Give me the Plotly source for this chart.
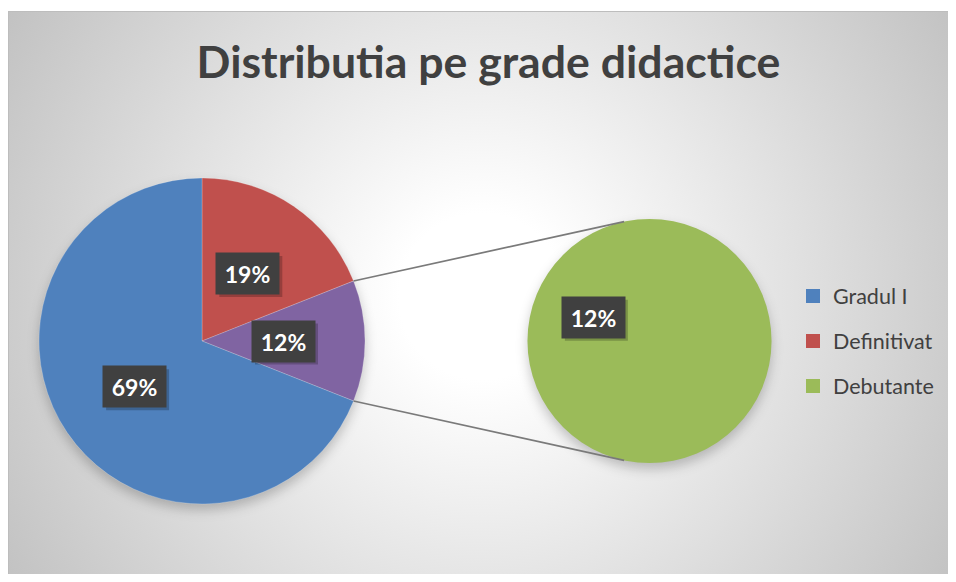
import math
import base64
import plotly.graph_objects as go

# ---------------- data ----------------
categories = ["Gradul I", "Definitivat", "Debutante"]
values = [69, 19, 12]
colors = ["#4F81BD", "#C0504D", "#9BBB59"]
other_color = "#8064A2"
title_text = "Distributia pe grade didactice"

# primary pie (clockwise from 12 o'clock): Definitivat, Other(=Debutante), Gradul I
primary_labels = ["Definitivat", "Alte", "Gradul I"]
primary_values = [values[1], values[2], values[0]]
primary_colors = [colors[1], other_color, colors[0]]
secondary_labels = ["Debutante"]
secondary_values = [values[2]]
secondary_colors = [colors[2]]

# ---------------- geometry / style (page pixels) ----------------
OFF = 8                    # page body margin
W, H = 956 - OFF, 582 - 2 * OFF
P1 = (202, 341, 163)       # cx, cy, r
P2 = (649.5, 341, 122)
LABEL_R = 0.5
P2_LABEL_ANGLE = 293
CONN2_ANGLE = 12
BOX_W, BOX_H = 63, 41
FONT = "Lato, 'Open Sans', sans-serif"
AREA = (8, 11)             # chart area top-left (page px)


def px2paper_x(x):
    return (x - OFF) / W


def px2paper_y(y):
    return 1 - (y - OFF) / H


def pt(c, ang, frac=1.0):
    cx, cy, r = c
    a = math.radians(ang)
    return cx + frac * r * math.sin(a), cy - frac * r * math.cos(a)


def dom(c):
    cx, cy, r = c
    return dict(x=[px2paper_x(cx - r), px2paper_x(cx + r)],
                y=[px2paper_y(cy + r), px2paper_y(cy - r)])


# ---------------- background (radial gradient + soft pie shadows) ----------------
bw, bh = 956 - AREA[0] + 4, 582 - AREA[1] + 4
gx, gy = (956 - AREA[0]) / 2, (582 - AREA[1]) / 2
gr = math.hypot(gx, gy)
shadows = ""
for c in (P1, P2):
    shadows += (f'<circle cx="{c[0]-AREA[0]}" cy="{c[1]-AREA[1]+6}" r="{c[2]}" '
                f'fill="#000" fill-opacity="0.22" filter="url(#b)"/>')
svg = f'''<svg xmlns="http://www.w3.org/2000/svg" width="{bw}" height="{bh}" viewBox="0 0 {bw} {bh}">
<defs><radialGradient id="g" gradientUnits="userSpaceOnUse" cx="{gx}" cy="{gy}" r="{gr}">
<stop offset="0" stop-color="#ffffff"/><stop offset="0.15" stop-color="#ffffff"/><stop offset="1" stop-color="#c2c2c2"/></radialGradient>
<filter id="b" x="-50%" y="-50%" width="200%" height="200%"><feGaussianBlur stdDeviation="6"/></filter></defs>
<rect x="0.5" y="0.5" width="{bw}" height="{bh}" fill="url(#g)" stroke="#bdbdbd" stroke-width="1"/>
{shadows}
</svg>'''
bg_src = "data:image/svg+xml;base64," + base64.b64encode(svg.encode()).decode()

fig = go.Figure()

fig.add_trace(go.Pie(
    values=primary_values, labels=primary_labels, sort=False, direction="clockwise",
    rotation=0, marker=dict(colors=primary_colors, line=dict(color="rgba(255,255,255,0.35)", width=0.6)),
    textinfo="none", hoverinfo="label+percent", showlegend=False, domain=dom(P1)))
fig.add_trace(go.Pie(
    values=secondary_values, labels=secondary_labels, sort=False, direction="clockwise",
    rotation=0, marker=dict(colors=secondary_colors), textinfo="none",
    hoverinfo="label", showlegend=False, domain=dom(P2)))

# legend entries
for cat, col in zip(categories, colors):
    fig.add_trace(go.Scatter(x=[None], y=[None], mode="markers", name=cat, legendgroup=cat,
                             marker=dict(symbol="square", size=14, color=col)))

shapes = []
annotations = []

# connector lines
tot = sum(primary_values)
a_start = 360 * primary_values[0] / tot
a_end = a_start + 360 * primary_values[1] / tot
for a1, a2 in ((a_start, 360 - CONN2_ANGLE), (a_end, 180 + CONN2_ANGLE)):
    x0, y0 = pt(P1, a1)
    x1, y1 = pt(P2, a2)
    shapes.append(dict(type="line", xref="x", yref="y", x0=x0, y0=y0, x1=x1, y1=y1,
                       line=dict(color="#7a7a7a", width=1.7)))

# data labels
label_pos = []
cum = 0
for v in primary_values:
    mid = 360 * (cum + v / 2) / tot
    cum += v
    label_pos.append((pt(P1, mid, LABEL_R), v))
label_pos.append((pt(P2, P2_LABEL_ANGLE, LABEL_R), secondary_values[0]))

for (x, y), v in label_pos:
    shapes.append(dict(type="rect", xref="x", yref="y", x0=x - BOX_W / 2 + 3, x1=x + BOX_W / 2 + 3,
                       y0=y - BOX_H / 2 + 3, y1=y + BOX_H / 2 + 3, line=dict(width=0),
                       fillcolor="rgba(0,0,0,0.22)"))
    annotations.append(dict(x=x, y=y, xref="x", yref="y", text=f"<b>{v}%</b>", showarrow=False,
                            width=BOX_W - 2, height=BOX_H - 2, borderpad=1, xanchor="center",
                            yanchor="middle", bgcolor="#404040",
                            font=dict(family=FONT, size=23, color="#ffffff")))

fig.update_layout(
    width=W, height=H, margin=dict(l=0, r=0, t=0, b=0),
    paper_bgcolor="#ffffff", plot_bgcolor="rgba(0,0,0,0)",
    xaxis=dict(range=[OFF, OFF + W], visible=False, fixedrange=True),
    yaxis=dict(range=[OFF + H, OFF], visible=False, fixedrange=True),
    title=dict(text=f"<b>{title_text}</b>", x=px2paper_x(488.5), xanchor="center",
               y=px2paper_y(62), yanchor="middle", yref="paper",
               font=dict(family=FONT, size=44.6, color="#404040")),
    legend=dict(x=px2paper_x(793), y=px2paper_y(341), xanchor="left", yanchor="middle",
                bgcolor="rgba(0,0,0,0)", tracegroupgap=14,
                font=dict(family=FONT, size=21.5, color="#404040")),
    images=[dict(source=bg_src, xref="paper", yref="paper", x=px2paper_x(AREA[0]),
                 y=px2paper_y(AREA[1]), sizex=bw / W, sizey=bh / H, sizing="stretch",
                 layer="below", xanchor="left", yanchor="top")],
    shapes=shapes, annotations=annotations,
)

fig.write_html("out.html")
